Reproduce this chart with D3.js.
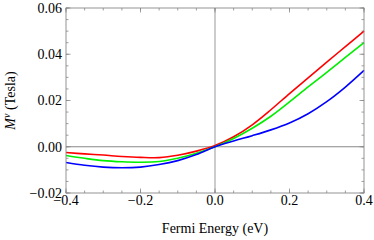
<!DOCTYPE html>
<html>
<head>
<meta charset="utf-8">
<script src="https://cdn.jsdelivr.net/npm/d3@7"></script>
<style>
  body { margin: 0; background: #fff; }
  text { font-family: "Liberation Serif", "Times New Roman", serif; }
</style>
</head>
<body>
<svg id="chart" width="374" height="240"></svg>
<script>
var energy = [-0.4, -0.35, -0.3, -0.25, -0.2, -0.15, -0.1, -0.05, 0, 0.05, 0.1, 0.15, 0.2, 0.25, 0.3, 0.35, 0.4];
var redVals = [-0.0025, -0.0031, -0.0036, -0.0042, -0.0046, -0.0047, -0.0037, -0.0019, 0.0005, 0.0043, 0.0095, 0.0160, 0.0230, 0.0298, 0.0366, 0.0433, 0.0500];
var greenVals = [-0.0038, -0.0050, -0.0060, -0.0065, -0.0067, -0.0064, -0.0050, -0.0028, 0.0000, 0.0036, 0.0080, 0.0132, 0.0194, 0.0259, 0.0322, 0.0386, 0.0450];
var blueVals = [-0.0068, -0.0080, -0.0088, -0.0091, -0.0088, -0.0077, -0.0060, -0.0034, 0.0000, 0.0025, 0.0048, 0.0073, 0.0103, 0.0143, 0.0195, 0.0258, 0.0330];
var xTicks = [-0.4, -0.2, 0, 0.2, 0.4];
var yTicks = [-0.02, 0, 0.02, 0.04, 0.06];

var series = [
    { color: "#ff0000", values: redVals },
    { color: "#00ee00", values: greenVals },
    { color: "#0000ff", values: blueVals }
];

var svg = d3.select("#chart"),
    margin = {top: 8, right: 10, bottom: 47, left: 66},
    width = 374 - margin.left - margin.right,
    height = 240 - margin.top - margin.bottom,
    g = svg.append("g").attr("transform", "translate(" + margin.left + "," + margin.top + ")");

var x = d3.scaleLinear().domain([-0.4, 0.4]).range([0, width]);
var y = d3.scaleLinear().domain([-0.02, 0.06]).range([height, 0]);

var fmt = function (d) { return d3.format(".1f")(d).replace("-", "\u2212"); };
var fmtY = function (d) { return d3.format(".2f")(d).replace("-", "\u2212"); };

var frame = "#888";
var minorX = d3.range(-0.4, 0.4001, 0.05);
var minorY = d3.range(-0.02, 0.06001, 0.005);

// axis lines through origin
g.append("line").attr("x1", x(0)).attr("x2", x(0)).attr("y1", 0).attr("y2", height)
    .attr("stroke", "#bbb").attr("stroke-width", 1.5);
g.append("line").attr("x1", 0).attr("x2", width).attr("y1", y(0)).attr("y2", y(0))
    .attr("stroke", "#888").attr("stroke-width", 1);

// ticks, inside, on all four sides
function ticks(sel, vals, len) {
    sel.selectAll(null).data(vals).enter().append("line")
        .attr("x1", function (d) { return x(d); }).attr("x2", function (d) { return x(d); })
        .attr("y1", height).attr("y2", height - len).attr("stroke", frame);
    sel.selectAll(null).data(vals).enter().append("line")
        .attr("x1", function (d) { return x(d); }).attr("x2", function (d) { return x(d); })
        .attr("y1", 0).attr("y2", len).attr("stroke", frame);
}
function ticksY(sel, vals, len) {
    sel.selectAll(null).data(vals).enter().append("line")
        .attr("y1", function (d) { return y(d); }).attr("y2", function (d) { return y(d); })
        .attr("x1", 0).attr("x2", len).attr("stroke", frame);
    sel.selectAll(null).data(vals).enter().append("line")
        .attr("y1", function (d) { return y(d); }).attr("y2", function (d) { return y(d); })
        .attr("x1", width).attr("x2", width - len).attr("stroke", frame);
}
var tg = g.append("g").attr("stroke-width", 0.8);
ticks(tg, minorX, 2.5);
ticks(tg, xTicks, 4.5);
ticksY(tg, minorY, 2.5);
ticksY(tg, yTicks, 4.5);

// curves
var line = d3.line()
    .x(function (d) { return x(d[0]); })
    .y(function (d) { return y(d[1]); })
    .curve(d3.curveCatmullRom);

g.selectAll(".curve").data(series).enter().append("path")
    .attr("class", "curve")
    .attr("fill", "none")
    .attr("stroke", function (d) { return d.color; })
    .attr("stroke-width", 1.6)
    .attr("d", function (d) { return line(d3.zip(energy, d.values)); });

// frame
g.append("rect").attr("width", width).attr("height", height)
    .attr("fill", "none").attr("stroke", frame).attr("stroke-width", 0.9);

// tick labels
g.selectAll(".xl").data(xTicks).enter().append("text")
    .attr("x", function (d) { return x(d); })
    .attr("y", height + 12)
    .attr("text-anchor", "middle")
    .attr("font-size", 14)
    .text(fmt);

g.selectAll(".yl").data(yTicks).enter().append("text")
    .attr("x", -4)
    .attr("y", function (d) { return y(d); })
    .attr("dy", "0.35em")
    .attr("text-anchor", "end")
    .attr("font-size", 14)
    .text(fmtY);

// axis titles
svg.append("text")
    .attr("x", margin.left + x(0))
    .attr("y", 233)
    .attr("text-anchor", "middle")
    .attr("font-size", 14)
    .text("Fermi Energy (eV)");

var yl = svg.append("text")
    .attr("transform", "translate(15," + (margin.top + height / 2) + ") rotate(-90)")
    .attr("text-anchor", "middle")
    .attr("font-size", 14);
yl.append("tspan").attr("font-style", "italic").text("M");
yl.append("tspan").attr("font-style", "italic").attr("font-size", 10).attr("dy", -5).text("v");
yl.append("tspan").attr("dy", 5).text(" (Tesla)");
</script>
</body>
</html>
